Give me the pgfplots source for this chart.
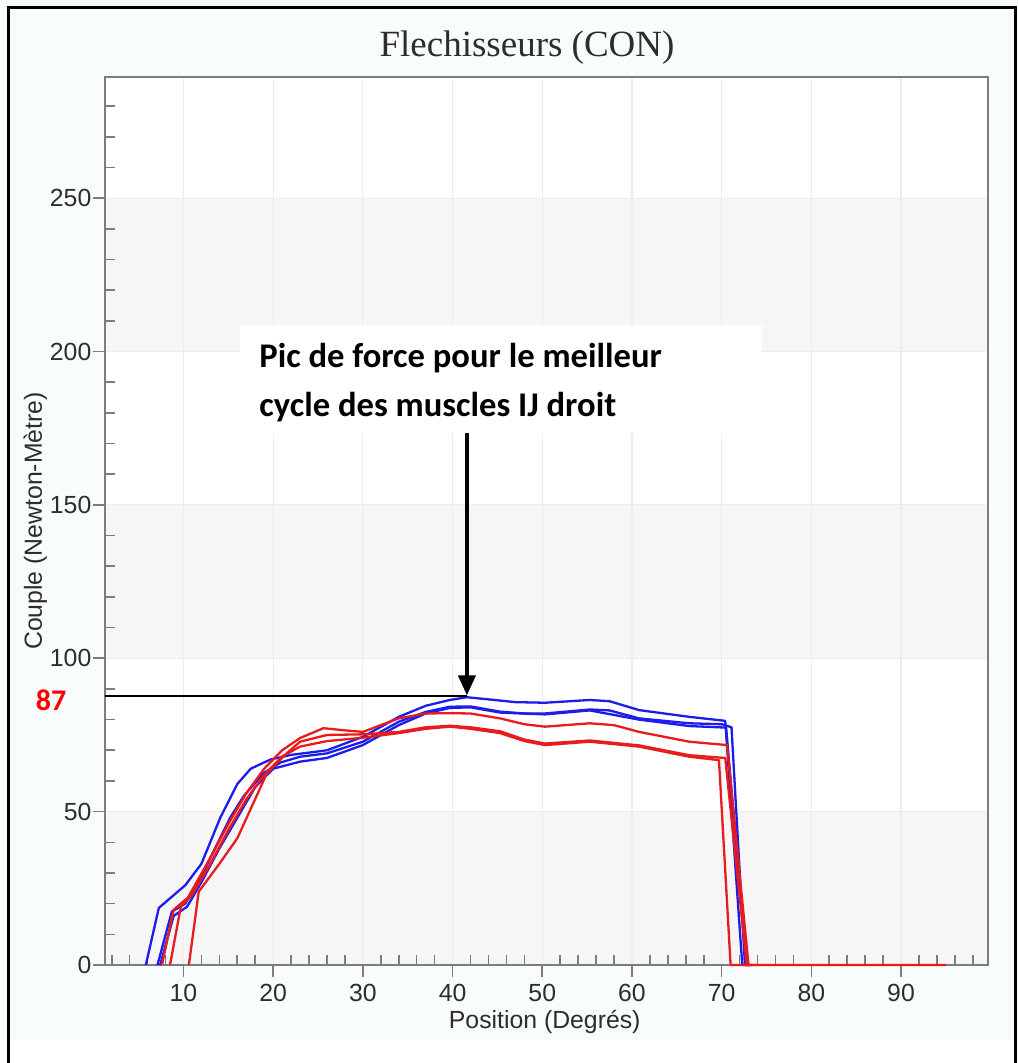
\documentclass[border=0pt]{standalone}
\usepackage{fontspec}
\setmainfont{Liberation Sans}
\newfontfamily\titlefont{Liberation Serif}
\newfontfamily\notefont{Carlito}
\usepackage{pgfplots}
\pgfplotsset{compat=1.18}
\usetikzlibrary{arrows.meta}
\definecolor{pagebg}{RGB}{249,252,253}
\definecolor{bandgray}{RGB}{246,246,246}
\definecolor{axgray}{RGB}{125,125,125}
\definecolor{gridgray}{RGB}{234,236,237}
\definecolor{textgray}{RGB}{45,45,45}
\definecolor{cblue}{RGB}{28,28,235}
\definecolor{cred}{RGB}{232,28,28}

\begin{document}
\begin{tikzpicture}
% 1 px of the reference = 0.5pt, origin at top left
\begin{axis}[
  at={(52.5pt,-482.5pt)}, anchor=south west,
  scale only axis, width=441.5pt, height=444pt,
  xmin=1.25, xmax=99.7, ymin=0, ymax=289.5,
  clip=false, set layers,
  axis line style={axgray, line width=1.1pt},
  xtick={10,20,...,90}, ytick={0,50,...,250},
  minor xtick={2,4,6,8,12,14,16,18,22,24,26,28,32,34,36,38,42,44,46,48,52,54,56,58,62,64,66,68,72,74,76,78,82,84,86,88,92,94,96,98},
  minor ytick={10,20,30,40,60,70,80,90,110,120,130,140,160,170,180,190,210,220,230,240,260,270,280},
  xtick pos=bottom, ytick pos=left, tick align=outside,
  major tick length=6pt, minor tick length=5pt,
  tick style={axgray, line width=0.8pt},
  minor x tick style={yshift=5pt},
  minor y tick style={xshift=5pt},
  xmajorgrids, ymajorgrids,
  major grid style={gridgray, line width=0.6pt},
  /pgf/number format/assume math mode=true,
  tick label style={font=\fontsize{12.4}{14}\selectfont, text=textgray},
  yticklabel style={xshift=2.7pt},
  xlabel={Position (Degrés)},
  ylabel={Couple (Newton-Mètre)},
  label style={font=\fontsize{12.4}{14}\selectfont, text=textgray},
  xlabel style={at={(axis description cs:0.498,-0.064)}, anchor=center},
  ylabel style={at={(axis description cs:-0.079,0.5)}, anchor=center},
]
% page background, plot area and alternating bands
\begin{pgfonlayer}{axis background}
\fill[pagebg] (rel axis cs:-0.119,-0.0845) rectangle (rel axis cs:1.034,1.0867);
\fill[white] (rel axis cs:-0.119,-0.0975) rectangle (rel axis cs:1.034,-0.0845);
\fill[white] (rel axis cs:0,0) rectangle (rel axis cs:1,1);
\fill[bandgray] (axis cs:1.25,0) rectangle (axis cs:99.7,50);
\fill[bandgray] (axis cs:1.25,100) rectangle (axis cs:99.7,150);
\fill[bandgray] (axis cs:1.25,200) rectangle (axis cs:99.7,250);
\end{pgfonlayer}

% blue cycles
\addplot[cblue, line width=1.15pt, line join=round] coordinates {
(5.8,0) (7.25,18.6) (10.2,26) (12,33) (14.1,48) (16,59) (17.5,64) (19.7,67)
(22,68.5) (26,70) (30,74.4) (34,80.9) (37,84.5) (39.7,86.4) (41.6,87.3)
(44,86.6) (47,85.7) (50.3,85.5) (55.3,86.4) (57.5,86) (60.8,83.1) (66.4,80.9)
(70.4,79.6) (72.3,0) (73,0)};
\addplot[cblue, line width=1.15pt, line join=round] coordinates {
(7.1,0) (8.7,17.4) (10.2,20) (12,29) (15.2,48) (16.7,55) (18.9,62.5) (20.8,66)
(23,67.9) (26,69) (30,72.8) (34,79.3) (37,82.5) (39.7,84.2) (42,84.3)
(45.3,82.6) (48,82) (50.3,82) (55.3,83.3) (57.5,83) (60.8,80.4) (66.4,78.8)
(70,78.5) (71.1,77.5) (72.6,0) (73.2,0)};
\addplot[cblue, line width=1.15pt, line join=round] coordinates {
(7.4,0) (8.9,16) (10.4,19) (12,27) (14,38) (16,48) (18,58) (20,64)
(23,66.3) (26,67.5) (30,71.7) (34,78.2) (37,82) (39.7,83.8) (42,84)
(45.3,82.3) (50.3,81.7) (55.3,83) (60.8,80) (66.4,77.9) (70.5,77.4)
(72.8,0) (73.4,0)};

% red cycles
\addplot[cred, line width=1.15pt, line join=round] coordinates {
(7.6,0) (8.9,18) (10.5,22) (13,35) (15,46) (17,56) (19,64) (21,70) (23,74)
(25.6,77.2) (28,76.5) (30,76) (34,80.4) (37,82) (39.7,82.1) (42,82)
(45.3,80.4) (48,78.5) (50.3,77.7) (55.3,78.8) (58,78.2) (60.8,76) (66.4,72.8)
(70.6,71.7) (73,0) (95,0)};
\addplot[cred, line width=1.15pt, line join=round] coordinates {
(8.5,0) (9.7,19) (11,23) (13,33) (15,44) (17,54) (19,62) (21,68) (23,71.2)
(26,73) (30,74.1) (34,75.6) (37,77) (39.7,77.7) (42,77) (45.3,75.6) (48,73)
(50.3,71.7) (55.3,72.8) (60.8,71.2) (66.4,67.9) (69.7,66.8) (71,0) (73,0)};
\addplot[cred, line width=1.15pt, line join=round] coordinates {
(10.6,0) (11.7,23.9) (14,33) (16,41.3) (19.3,62.5) (21.5,69) (23,72.8)
(26,75) (30,75.2) (34,76) (37,77.5) (39.7,78) (42,77.5) (45.3,76.2) (48,73.5)
(50.3,72.2) (55.3,73.2) (60.8,71.6) (66.4,68.4) (70.4,67.5) (72.8,0) (74,0)};

% peak marker line and arrow
\draw[black, line width=1pt] (axis cs:1.25,87.7) -- (axis cs:41.6,87.7);
\draw[black, line width=2pt, -{Triangle[length=10pt,width=8.5pt]}]
  (axis cs:41.6,173.5) -- (axis cs:41.6,87.9);
\end{axis}

% title
\node[anchor=base, font=\titlefont\fontsize{18.5}{20}\selectfont, text=textgray]
  at (263.5pt,-28.5pt) {Flechisseurs (CON)};
% annotation box
\fill[white] (120pt,-162.5pt) rectangle (381pt,-216.5pt);
\node[anchor=base west, inner sep=0pt, font=\notefont\bfseries\fontsize{17.3}{20}\selectfont]
  at (129.5pt,-184pt) {Pic de force pour le meilleur};
\node[anchor=base west, inner sep=0pt, font=\notefont\bfseries\fontsize{17.3}{20}\selectfont]
  at (129.5pt,-208.25pt) {cycle des muscles IJ droit};
% value of the peak
\node[anchor=center, text=red, font=\notefont\bfseries\fontsize{15}{17}\selectfont]
  at (25.5pt,-350pt) {87};
% frame
\draw[black, line width=1.5pt] (4pt,-531.5pt) -- (4pt,-3.8pt) -- (507.5pt,-3.8pt) -- (507.5pt,-531.5pt);

\pgfresetboundingbox
\path (0,0) rectangle (509pt,-531.5pt);
\end{tikzpicture}
\end{document}
